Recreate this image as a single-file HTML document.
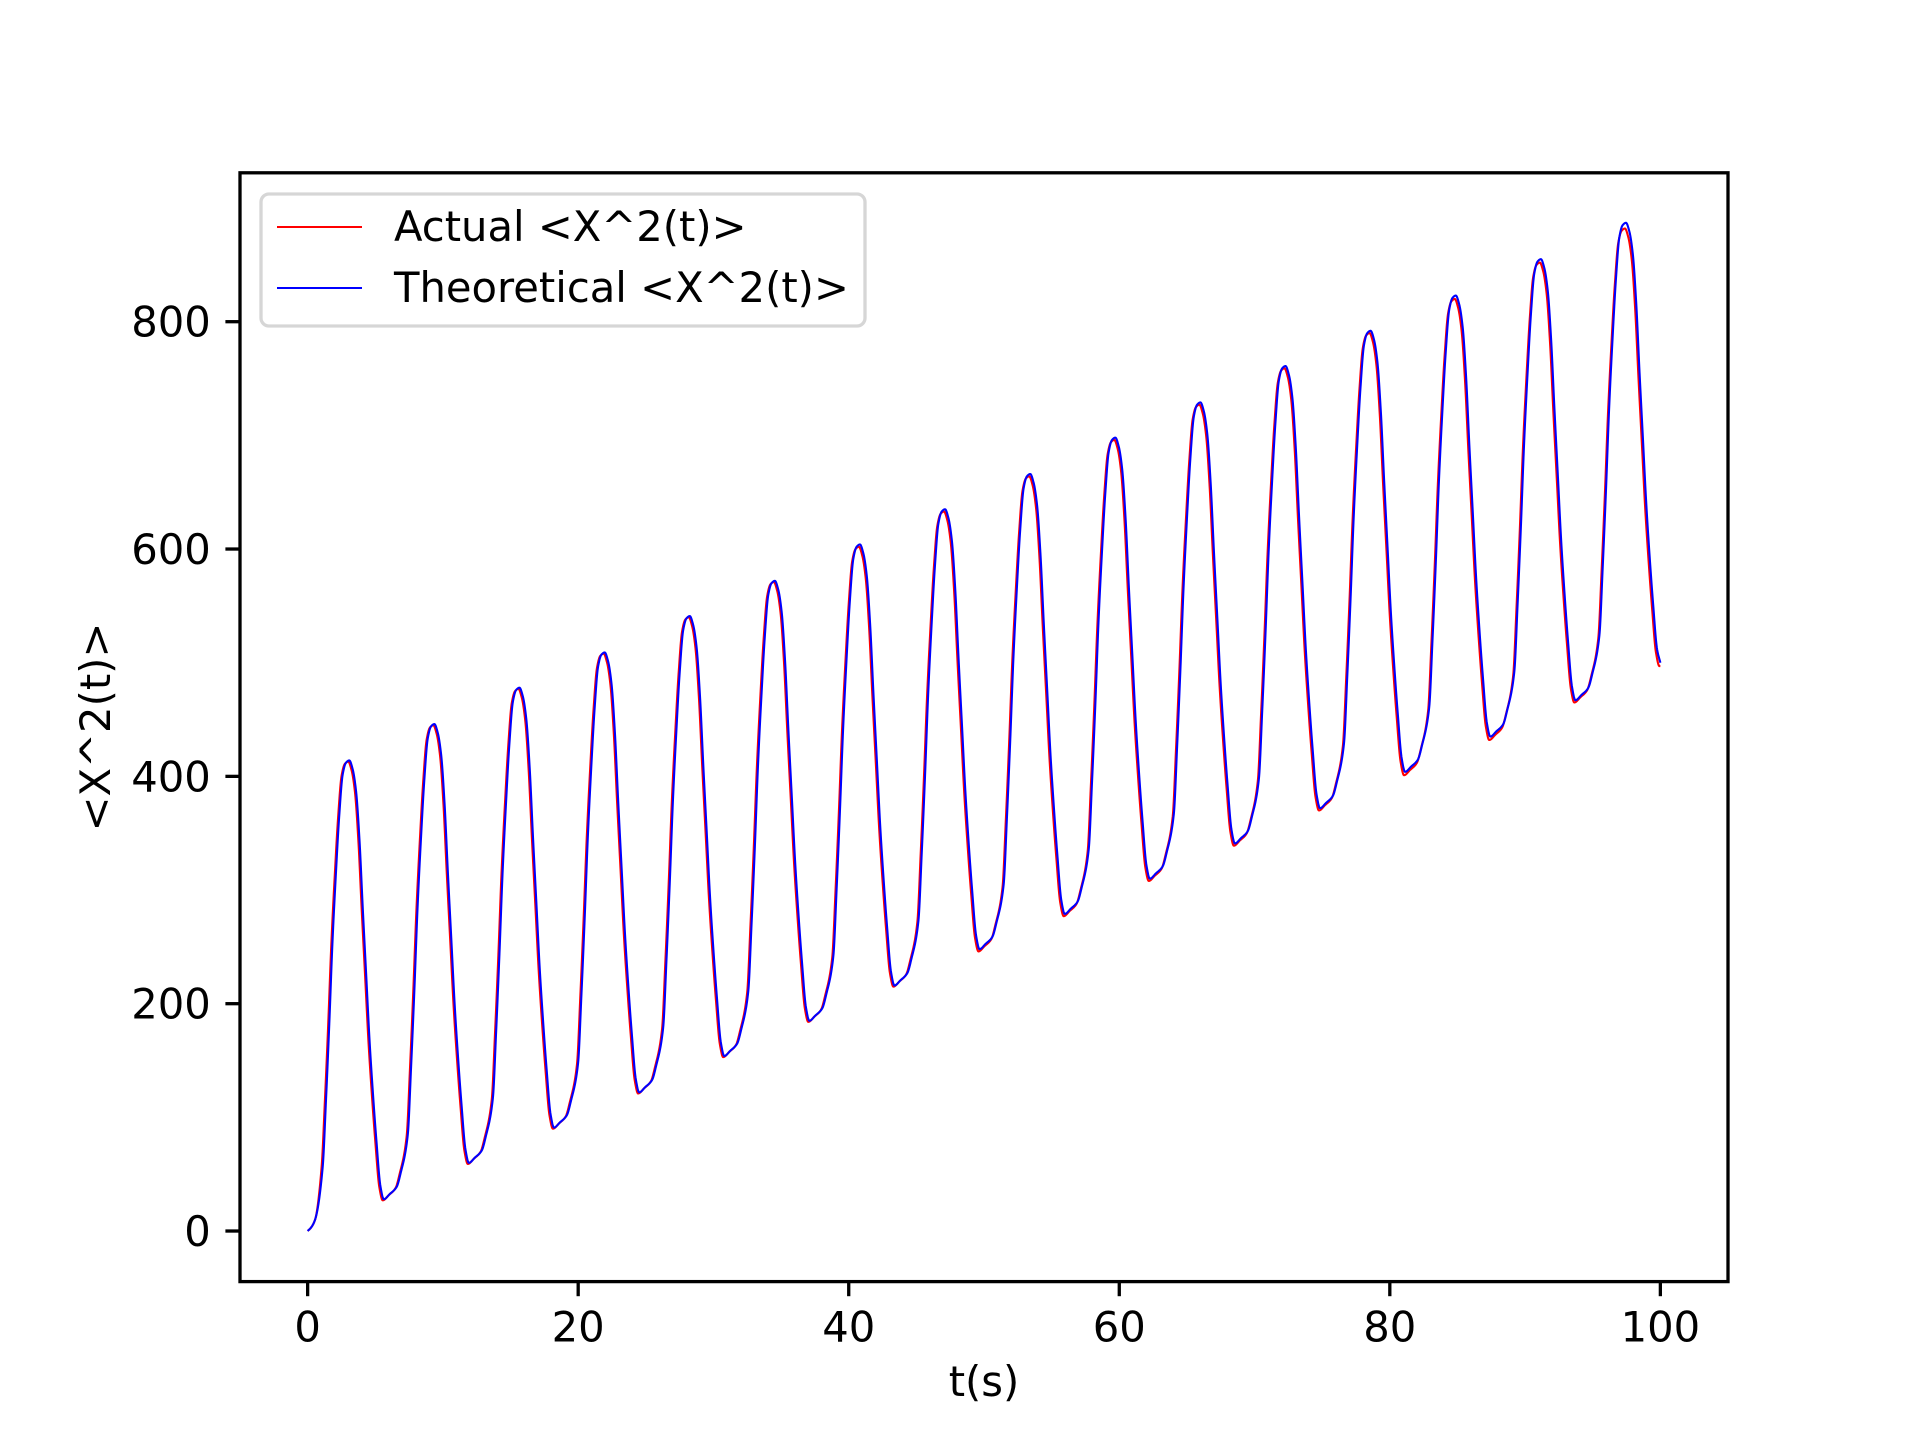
<!DOCTYPE html>
<html><head><meta charset="utf-8"><style>
html,body{margin:0;padding:0;background:#fff;}
svg{display:block;font-family:"DejaVu Sans","Liberation Sans",sans-serif;}
</style></head><body>
<svg id="chart" width="1920" height="1440" viewBox="0 0 1920 1440" xmlns="http://www.w3.org/2000/svg">
<rect x="0" y="0" width="1920" height="1440" fill="#fff"/>
<g id="plot"></g>
<g id="axes"></g>
<text x="984" y="1396" font-size="41.7" text-anchor="middle">t(s)</text>
<text transform="translate(110,727) rotate(-90)" font-size="41.7" text-anchor="middle">&lt;X^2(t)&gt;</text>
<g>
<rect x="261" y="194" width="604" height="132" rx="8" fill="#fff" fill-opacity="0.8" stroke="#d6d6d6" stroke-width="3.3"/>
<line x1="277" y1="227" x2="362" y2="227" stroke="#ff0000" stroke-width="2.1"/>
<text x="394" y="241" font-size="41.7">Actual &lt;X^2(t)&gt;</text>
<line x1="277" y1="288" x2="362" y2="288" stroke="#0000ff" stroke-width="2.1"/>
<text x="394" y="302" font-size="41.7">Theoretical &lt;X^2(t)&gt;</text>
</g>
</svg>
<script>
// ---- data ----
const peakTimes = [3.08,9.37,15.66,21.96,28.25,34.54,40.83,47.12,53.42,59.71,66.0,72.29,78.58,84.88,91.17,97.46];
const peakValuesTheo = [414,446,478,509,541,572,604,635,666,698,729,761,792,823,855,887];
const troughValuesTheo = [28,60,91,122,154,185,216,248,279,310,341,372,404,435,467];
const peakValuesAct = [413,445,477,508,540,571,602,633,664,696,727,759,790,820,852,882];
const troughValuesAct = [27,59,90,121,153,184,215,246,277,308,339,370,401,432,465];
const actualTimeShift = -0.08;
const endValueTheo = 500, endValueAct = 497;
// one-cycle shape (offset from peak in s, fraction of peak-to-trough swing)
const fallOffsets = [0.25,0.5,0.75,1.0,1.25,1.5,1.75,2.0,2.3,2.55,3.0,3.5,3.8];
const fallFrac    = [0.98,0.93,0.82,0.66,0.51,0.36,0.24,0.135,0.03,0,0.012,0.028,0.06];
const riseOffsets = [-1.97,-1.72,-1.48,-1.25,-0.99,-0.75,-0.49,-0.25];
const riseFrac    = [0.135,0.28,0.44,0.61,0.76,0.88,0.97,0.995];
const xTicks = [0,20,40,60,80,100];
const yTicks = [0,200,400,600,800];
// ---- axes geometry ----
const L=240,R=1728,T=172.8,B=1281.6;
const xMin=-5,xMax=105,yMin=-44.5,yMax=931;
const xs=t=>L+(t-xMin)/(xMax-xMin)*(R-L);
const ys=v=>B-(v-yMin)/(yMax-yMin)*(B-T);
const NS='http://www.w3.org/2000/svg';
function mk(tag,attrs,parent){const e=document.createElementNS(NS,tag);for(const k in attrs)e.setAttribute(k,attrs[k]);parent.appendChild(e);return e;}

function series(peakV,troughV,shift,endV){
  const pts=[[0,0],[0.25,3],[0.55,10]];
  for(let k=0;k<peakTimes.length;k++){
    const pt=peakTimes[k]+shift, pv=peakV[k];
    const prev = k===0?0:troughV[k-1];
    for(let i=0;i<riseOffsets.length;i++){
      const t=pt+riseOffsets[i]; if(t<=0.7) continue;
      pts.push([t,prev+riseFrac[i]*(pv-prev)]);
    }
    pts.push([pt,pv]);
    const next = k<troughV.length?troughV[k]:endV;
    for(let i=0;i<fallOffsets.length;i++){
      const t=pt+fallOffsets[i];
      if(k===peakTimes.length-1 && t>=99.95) break;
      if(k<peakTimes.length-1 && t>=peakTimes[k+1]+shift+riseOffsets[0]-0.05) break;
      pts.push([t,next+fallFrac[i]*(pv-next)]);
    }
  }
  pts.push([100,endV]);
  return pts;
}
// monotone cubic (Fritsch-Carlson) interpolation
function pathFrom(pts){
  const n=pts.length, x=pts.map(p=>p[0]), y=pts.map(p=>p[1]);
  const d=[],m=[];
  for(let i=0;i<n-1;i++) d.push((y[i+1]-y[i])/(x[i+1]-x[i]));
  m[0]=d[0]; m[n-1]=d[n-2];
  for(let i=1;i<n-1;i++){
    if(d[i-1]*d[i]<=0) m[i]=0;
    else { const w1=2*(x[i+1]-x[i])+(x[i]-x[i-1]), w2=(x[i+1]-x[i])+2*(x[i]-x[i-1]);
      m[i]=(w1+w2)/(w1/d[i-1]+w2/d[i]); }
  }
  let s='';
  for(let i=0;i<n-1;i++){
    const h=x[i+1]-x[i], steps=Math.max(2,Math.ceil(h/0.02));
    for(let j=(i===0?0:1);j<=steps;j++){
      const u=j/steps, u2=u*u, u3=u2*u;
      const v=(2*u3-3*u2+1)*y[i]+(u3-2*u2+u)*h*m[i]+(-2*u3+3*u2)*y[i+1]+(u3-u2)*h*m[i+1];
      const t=x[i]+u*h;
      s+=(s?'L':'M')+xs(t).toFixed(2)+','+ys(v).toFixed(2);
    }
  }
  return s;
}
const plot=document.getElementById('plot');
const act=mk('path',{d:pathFrom(series(peakValuesAct,troughValuesAct,actualTimeShift,endValueAct)),fill:'none',stroke:'#ff0000','stroke-width':2.1,'stroke-linejoin':'round'},plot);


const theo=mk('path',{d:pathFrom(series(peakValuesTheo,troughValuesTheo,0,endValueTheo)),fill:'none',stroke:'#0000ff','stroke-width':2.1,'stroke-linejoin':'round'},plot);



const axes=document.getElementById('axes');
const frame=mk('rect',{x:L,y:T,width:R-L,height:B-T,fill:'none',stroke:'#000','stroke-width':3.3},axes);


xTicks.forEach(v=>{
  const x=xs(v);
  const tk=mk('line',{x1:x,y1:B,x2:x,y2:B+14.6,stroke:'#000','stroke-width':3.3},axes);
  
  
  const lb=mk('text',{x:x,y:B+14.6+14.6+30.5,'font-size':41.7,'text-anchor':'middle'},axes);
  lb.textContent=String(v);
  
  
});
yTicks.forEach(v=>{
  const y=ys(v);
  const tk=mk('line',{x1:L-14.6,y1:y,x2:L,y2:y,stroke:'#000','stroke-width':3.3},axes);
  
  
  const lb=mk('text',{x:L-14.6-14.6,y:y+15,'font-size':41.7,'text-anchor':'end'},axes);
  lb.textContent=String(v);
  
  
});
</script>
</body></html>
